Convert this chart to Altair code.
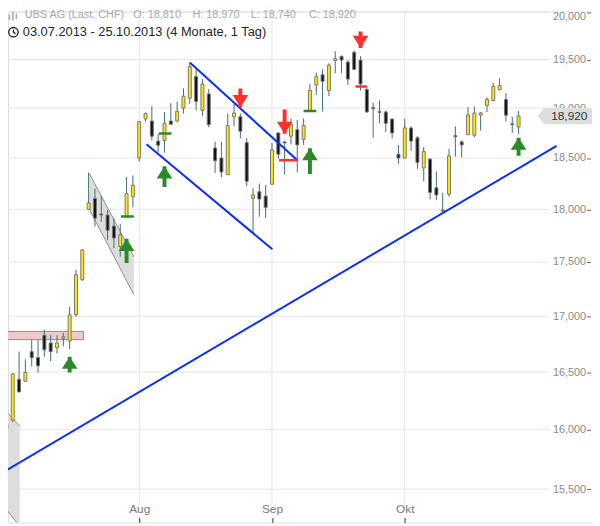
import altair as alt
import pandas as pd

FONT = "Liberation Sans"

# ---- candle data (UBS AG, 03.07.2013 - 25.10.2013, trading-day index) ----
opens = [16011, 16082, 16437, 16420, 16681, 16630, 16829, 16759, 16716, 16800,
         16777, 17016, 17335, 18000, 18105, 17955, 17945, 17840, 17645, 17935,
         18121, 18500, 18890, 18870, 18668, 18676, 18870, 18870, 19000, 19101,
         19324, 18977, 19145, 18600, 18500, 18337, 18912, 18912, 18653, 18106,
         18169, 18128, 18243, 18750, 18660, 18717, 18783, 18686, 18967, 19237,
         19342, 19180, 19490, 19534, 19473, 19575, 19494, 19190, 19005, 18966,
         18961, 18890, 18538, 18500, 18800, 18701, 18402, 18490, 18208, 17993,
         18147, 18722, 18660, 18733, 18727, 18929, 19027, 19078, 19190, 19088,
         18842, 18810]
highs = [16050, 16491, 16683, 16613, 16788, 16788, 16878, 16829, 16829, 16849,
         17086, 17427, 17620, 18358, 18201, 18128, 17993, 17915, 17860, 18313,
         18329, 18870, 18955, 19020, 18740, 18961, 19050, 19067, 19203, 19474,
         19398, 19298, 19196, 18663, 18660, 18945, 19043, 18945, 18701, 18205,
         18250, 18233, 18650, 18756, 18670, 18895, 18880, 18895, 19247, 19365,
         19398, 19460, 19587, 19540, 19494, 19595, 19534, 19213, 19054, 19078,
         18977, 18895, 18630, 18890, 18815, 18717, 18611, 18493, 18369, 18160,
         18590, 18815, 18676, 19010, 19017, 18961, 19111, 19257, 19305, 19155,
         18912, 18970]
lows = [15636, 16067, 16326, 16415, 16550, 16494, 16637, 16598, 16666, 16729,
        16704, 16995, 17325, 17993, 17835, 17880, 17709, 17630, 17550, 17915,
        18019, 18467, 18864, 18676, 18555, 18555, 18832, 18857, 18945, 19044,
        18977, 18922, 18806, 18353, 18310, 18337, 18815, 18695, 18223, 17770,
        17930, 17915, 18240, 18493, 18337, 18636, 18358, 18630, 18960, 19135,
        18967, 19122, 19358, 19358, 19237, 19392, 19180, 18953, 18701, 18847,
        18760, 18695, 18444, 18498, 18571, 18394, 18271, 18096, 18089, 17977,
        18121, 18513, 18506, 18731, 18706, 18773, 18961, 19068, 19180, 18864,
        18750, 18740]
closes = [16045, 16485, 16326, 16497, 16628, 16555, 16698, 16681, 16759, 16815,
          17013, 17381, 17614, 18061, 17915, 17945, 17800, 17725, 17756, 18153,
          18233, 18864, 18945, 18717, 18627, 18847, 18837, 18968, 19122, 19426,
          19068, 19247, 18832, 18473, 18362, 18825, 18951, 18766, 18271, 18138,
          18099, 18019, 18581, 18538, 18650, 18837, 18630, 18825, 19180, 19322,
          19274, 19443, 19510, 19494, 19297, 19398, 19247, 18961, 18995, 18956,
          18847, 18750, 18500, 18800, 18668, 18457, 18564, 18163, 18138, 17983,
          18522, 18712, 18630, 18929, 18951, 18951, 19088, 19223, 19230, 18929,
          18832, 18920]

# axes
month_idx = [21, 42, 63]
month_labels = ["Aug", "Sep", "Okt"]
y_ticks = [15500, 16000, 16500, 17000, 17500, 18000, 18500, 19000, 19500, 20000]

# trend lines (start index, start price, end index, end price)
trend_i1 = [-0.2, 29.05, 22.15]
trend_p1 = [15650, 19466, 18636]
trend_i2 = [87.0, 45.97, 42.06]
trend_p2 = [18620, 18481, 17620]

# grey channel shadings
chan_id = ["a", "a", "b", "b"]
chan_i = [-1.73, 2.1, 13.10, 20.15]
chan_top = [16255, 16031, 18348, 17549]
chan_bot = [15445, 15195, 18003, 17198]

# pink resistance band
band_i = [-2.0, 12.18]
band_p = [16863, 16789]

# signal arrows
arrow_kind = ["buy", "buy", "buy", "buy", "buy", "sell", "sell", "sell"]
arrow_i = [10, 25, 19, 48, 81, 37, 44, 56]
arrow_tip = [16636, 18418, 17718, 18597, 18702, 19010, 18741, 19621]
arrow_tail = [16497, 18215, 17491, 18344, 18522, 19201, 18987, 19794]

# short signal level markers
mark_kind = ["buy", "buy", "buy", "sell", "sell"]
mark_i1 = [18.1, 24.1, 47.0, 43.1, 55.2]
mark_i2 = [20.15, 26.1, 49.0, 46.0, 57.0]
mark_p = [17930, 18744, 18970, 18478, 19222]

header_name = "UBS AG (Last, CHF)"
header_range = "03.07.2013 - 25.10.2013 (4 Monate, 1 Tag)"

# ---------------- build ----------------
GREEN = "#0b7d0b"
RED = "#ff1e1e"
kind_color = alt.Scale(domain=["buy", "sell"], range=[GREEN, RED])
mark_color = alt.Scale(domain=["buy", "sell"], range=["#2a8a2a", "#ff3030"])
UP = "M0,0 L1,1.55 L-1,1.55 Z"
DOWN = "M0,0 L1,-1.55 L-1,-1.55 Z"
kind_shape = alt.Scale(domain=["buy", "sell"], range=[UP, DOWN])

x_scale = alt.Scale(domain=[1.03, 91.83], nice=False, zero=False)
y_scale = alt.Scale(type="log", domain=[15226, 20007], nice=False, zero=False)

label_expr = " : ".join(
    f"datum.value == {m} ? '{l}'" for m, l in zip(month_idx[:-1], month_labels[:-1])
) + f" : '{month_labels[-1]}'"

x_axis = alt.Axis(orient="top", offset=-518, values=month_idx, labelExpr=label_expr,
                  grid=False, domain=False, tickSize=5, tickColor="#333333",
                  labelColor="#7a7a7a", labelFontSize=12, labelPadding=2,
                  labelFont=FONT, title=None)
y_axis = alt.Axis(orient="left", offset=-590.5, values=y_ticks, format=",",
                  grid=False, domain=False, tickSize=4, tickColor="#666666",
                  labelColor="#8a8a8a", labelFontSize=11, labelPadding=1,
                  labelFlush=2, labelFlushOffset=1.5, labelOverlap=False,
                  labelFont=FONT, title=None)


def X(f):
    return alt.X(f, type="quantitative", scale=x_scale, axis=x_axis)


def Y(f):
    return alt.Y(f, type="quantitative", scale=y_scale, axis=y_axis)


one = pd.DataFrame({"k": [0]})

df = pd.DataFrame({"i": list(range(len(opens))), "open": opens, "high": highs,
                   "low": lows, "close": closes})

grid_h = alt.Chart(pd.DataFrame({"p": y_ticks})).mark_rule(
    color="#e6e6e6", strokeWidth=1).encode(y=Y("p"), x=alt.value(0), x2=alt.value(549))
grid_v = alt.Chart(pd.DataFrame({"i": month_idx})).mark_rule(
    color="#e6e6e6", strokeWidth=1).encode(x=X("i"), y=alt.value(0), y2=alt.value(500))

chan_df = pd.DataFrame({"c": chan_id, "i": chan_i, "top": chan_top, "bot": chan_bot})
chan_area = alt.Chart(chan_df).mark_area(color="#dddddd", opacity=1, clip=True).encode(
    x=X("i"), y=Y("top"), y2=alt.Y2("bot"), detail="c:N")
edge_df = pd.concat([
    pd.DataFrame({"e": [c + "t" for c in chan_id], "i": chan_i, "p": chan_top}),
    pd.DataFrame({"e": [c + "b" for c in chan_id], "i": chan_i, "p": chan_bot}),
])
chan_edges = alt.Chart(edge_df).mark_line(color="#8c8c8c", strokeWidth=1, clip=True).encode(
    x=X("i"), y=Y("p"), detail="e:N")

band = alt.Chart(pd.DataFrame({"i1": [band_i[0]], "i2": [band_i[1]],
                               "p1": [band_p[0]], "p2": [band_p[1]]})).mark_rect(
    fill="#eecaca", stroke="#8c8c8c", strokeWidth=1, clip=True).encode(
    x=X("i1"), x2=alt.X2("i2"), y=Y("p1"), y2=alt.Y2("p2"))

wicks = alt.Chart(df).mark_rule(color="#3e6d78", strokeWidth=1, clip=True).encode(
    x=X("i"), y=Y("low"), y2=alt.Y2("high"))
bodies = alt.Chart(df).mark_bar(size=3, stroke="#777777", strokeWidth=1, clip=True).encode(
    x=X("i"), y=Y("open"), y2=alt.Y2("close"),
    color=alt.condition("datum.close >= datum.open", alt.value("#ffe800"), alt.value("#111111")))

trend = alt.Chart(pd.DataFrame({"i1": trend_i1, "p1": trend_p1, "i2": trend_i2,
                                "p2": trend_p2})).mark_rule(
    color="#0a2cff", strokeWidth=2, clip=True).encode(
    x=X("i1"), x2=alt.X2("i2"), y=Y("p1"), y2=alt.Y2("p2"))

markers = alt.Chart(pd.DataFrame({"kind": mark_kind, "i1": mark_i1, "i2": mark_i2,
                                  "p": mark_p})).mark_rule(strokeWidth=2.5, clip=True).encode(
    x=X("i1"), x2=alt.X2("i2"), y=Y("p"),
    color=alt.Color("kind:N", scale=mark_color, legend=None))

arr_df = pd.DataFrame({"kind": arrow_kind, "i": arrow_i, "tip": arrow_tip, "tail": arrow_tail})
stems = alt.Chart(arr_df).mark_rule(strokeWidth=4, clip=True).encode(
    x=X("i"), y=Y("tail"), y2=alt.Y2("tip"),
    color=alt.Color("kind:N", scale=kind_color, legend=None))
heads = alt.Chart(arr_df).mark_point(filled=True, size=250, opacity=1, strokeWidth=0).encode(
    x=X("i"), y=Y("tip"),
    color=alt.Color("kind:N", scale=kind_color, legend=None),
    shape=alt.Shape("kind:N", scale=kind_shape, legend=None))

last_df = pd.DataFrame({"p": [closes[-1]], "label": [f"{closes[-1]:,}"]})
tag = alt.Chart(last_df).mark_point(
    shape="M-1,0 L-0.76,-0.3 L1,-0.3 L1,0.3 L-0.76,0.3 Z", size=3025, filled=True,
    color="#dedede", opacity=1, strokeWidth=0).encode(x=alt.value(564.5), y=Y("p"))
tag_text = alt.Chart(last_df).mark_text(
    font=FONT, fontSize=12, color="#333333", align="center", baseline="middle").encode(
    x=alt.value(569), y=Y("p"), text="label:N")

hdr_items = [header_name, f"O: {opens[-1]:,}", f"H: {highs[-1]:,}",
             f"L: {lows[-1]:,}", f"C: {closes[-1]:,}"]
hdr_x = [17, 127, 187, 246, 305]
hdr_layers = []
for t, xx in zip(hdr_items, hdr_x):
    hdr_layers.append(alt.Chart(one).mark_text(
        font=FONT, fontSize=11, color="#a8a8a8", align="left", baseline="middle").encode(
        x=alt.value(xx), y=alt.value(4), text=alt.value(t)))
hdr2 = alt.Chart(one).mark_text(
    font=FONT, fontSize=13, color="#262626", align="left", baseline="middle").encode(
    x=alt.value(15), y=alt.value(21), text=alt.value(header_range))
icon_candle = alt.Chart(one).mark_point(
    shape="M-0.7,-0.4 L-0.7,0.7 M0,-1 L0,0.8 M0.7,-0.6 L0.7,0.5",
    size=100, filled=False, color="#a8a8a8", strokeWidth=1.5, opacity=1).encode(
    x=alt.value(5), y=alt.value(5))
icon_clock = alt.Chart(one).mark_point(
    shape="M1,0 A1,1 0 1,1 -1,0 A1,1 0 1,1 1,0 M0,-0.6 L0,0 L0.45,0.3",
    size=90, filled=False, color="#262626", strokeWidth=1.4, opacity=1).encode(
    x=alt.value(5.5), y=alt.value(21))

chart = alt.layer(
    grid_h, grid_v, chan_area, chan_edges, band, wicks, bodies, trend,
    markers, stems, heads, tag, tag_text, *hdr_layers, hdr2, icon_candle, icon_clock
).properties(
    width=592, height=518, autosize=alt.AutoSizeParams(type="none"), padding=0,
    background="white"
).configure_view(stroke=None).configure(font=FONT)

chart.save("out.html", embed_options={"renderer": "svg", "actions": False})
